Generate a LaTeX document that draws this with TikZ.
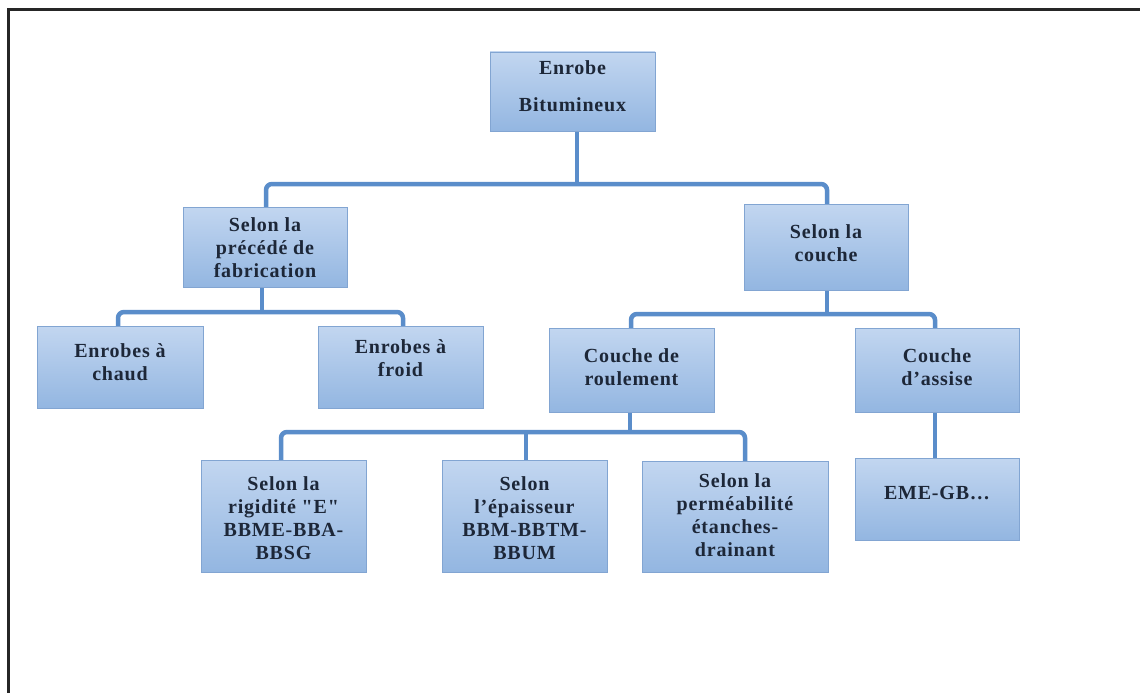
\documentclass[tikz,border=0pt]{standalone}
\usepackage{fontspec}
\setmainfont{Liberation Serif}
\newfontfamily\boxfont{Liberation Serif}[LetterSpace=4]
\definecolor{boxtop}{HTML}{C2D6F0}
\definecolor{boxbot}{HTML}{93B6E1}
\definecolor{boxline}{HTML}{82A5D2}
\definecolor{conncol}{HTML}{5A8DCA}
\definecolor{txtcol}{HTML}{1D2738}
\tikzset{
  orgbox/.style={draw=boxline, line width=0.9pt, top color=boxtop, bottom color=boxbot, inner sep=0pt},
  boxtext/.style={align=center, inner sep=0pt, text=txtcol, font=\boxfont\bfseries\fontsize{20}{23}\selectfont},
  conn/.style={draw=conncol, line width=4.5pt, rounded corners=6pt}
}
\begin{document}
\begin{tikzpicture}[x=1pt,y=-1pt]
\useasboundingbox (0,0) rectangle (1140,693);
\fill[white] (0,0) rectangle (1140,693);
\draw[line width=2.2pt, black!85] (8.5,693) -- (8.5,9.5) -- (1140,9.5);

% connector anchor points
\coordinate (rs) at (577,131);
\coordinate (b1) at (0,184);
\coordinate (fn) at (266,207);
\coordinate (cn) at (827,204);
\coordinate (fs) at (262,287);
\coordinate (b2) at (0,312);
\coordinate (chn) at (118,326);
\coordinate (frn) at (403,326);
\coordinate (cs) at (827,290);
\coordinate (b3) at (0,314);
\coordinate (rn) at (631,328);
\coordinate (an) at (935,328);
\coordinate (rsb) at (630,412);
\coordinate (b4) at (0,432);
\coordinate (rgn) at (281,460);
\coordinate (epn) at (526,460);
\coordinate (pmn) at (745,461);
\coordinate (asb) at (935,412);
\coordinate (emn) at (935,458);

\draw[conn] (rs) -- (rs |- b1);
\draw[conn] (fn) -- (fn |- b1) -| (cn);
\draw[conn] (fs) -- (fs |- b2);
\draw[conn] (chn) -- (chn |- b2) -| (frn);
\draw[conn] (cs) -- (cs |- b3);
\draw[conn] (rn) -- (rn |- b3) -| (an);
\draw[conn] (rsb) -- (rsb |- b4);
\draw[conn] (rgn) -- (rgn |- b4) -| (pmn);
\draw[conn] (epn) -- (epn |- b4);
\draw[conn] (asb) -- (emn);

% boxes
\node[orgbox, minimum width=165pt, minimum height=79pt] (root) at (572.5,91.5) {};
\node[boxtext, font=\boxfont\bfseries\fontsize{20}{37}\selectfont] (root-t) at (572.5,86.5) {Enrobe\\Bitumineux};

\node[orgbox, minimum width=164pt, minimum height=80pt] (fab) at (265,247) {};
\node[boxtext] (fab-t) at (265,248) {Selon la\\précédé de\\fabrication};

\node[orgbox, minimum width=164pt, minimum height=86pt] (couche) at (826,247) {};
\node[boxtext] (couche-t) at (826,243) {Selon la\\couche};

\node[orgbox, minimum width=166pt, minimum height=82pt] (chaud) at (120,367) {};
\node[boxtext] (chaud-t) at (120,362) {Enrobes à\\chaud};

\node[orgbox, minimum width=165pt, minimum height=82pt] (froid) at (400.5,367) {};
\node[boxtext] (froid-t) at (400.5,358) {Enrobes à\\froid};

\node[orgbox, minimum width=165pt, minimum height=84pt] (roul) at (631.5,370) {};
\node[boxtext] (roul-t) at (631.5,367) {Couche de\\roulement};

\node[orgbox, minimum width=164pt, minimum height=84pt] (assise) at (937,370) {};
\node[boxtext] (assise-t) at (937,367.5) {Couche\\d’assise};

\node[orgbox, minimum width=165pt, minimum height=112pt] (rig) at (283.5,516) {};
\node[boxtext] (rig-t) at (283.5,518) {Selon la\\rigidité "E"\\BBME-BBA-\\BBSG};

\node[orgbox, minimum width=165pt, minimum height=112pt] (ep) at (524.5,516) {};
\node[boxtext] (ep-t) at (524.5,518) {Selon\\l’épaisseur\\BBM-BBTM-\\BBUM};

\node[orgbox, minimum width=186pt, minimum height=111pt] (perm) at (735,516.5) {};
\node[boxtext] (perm-t) at (735,515) {Selon la\\perméabilité\\étanches-\\drainant};

\node[orgbox, minimum width=164pt, minimum height=82pt] (eme) at (937,499) {};
\node[boxtext] (eme-t) at (937,493) {EME-GB…};
\end{tikzpicture}
\end{document}
